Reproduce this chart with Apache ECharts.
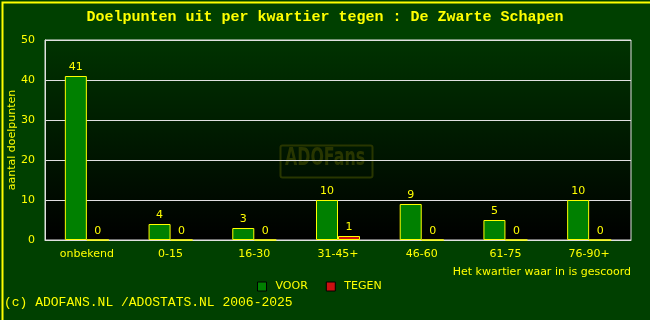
<!DOCTYPE html>
<html>
<head>
<meta charset="utf-8">
<script src="https://cdn.jsdelivr.net/npm/echarts@6/dist/echarts.min.js"></script>
<style>
  html, body { margin: 0; padding: 0; background: #004000; }
  #doelpunten { width: 650px; height: 320px; }
</style>
</head>
<body>
<div id="doelpunten"></div>
<script>
// data
var kwartieren = ['onbekend', '0-15', '16-30', '31-45+', '46-60', '61-75', '76-90+'];
var voor = [41, 4, 3, 10, 9, 5, 10];
var tegen = [0, 0, 0, 1, 0, 0, 0];

var geel = '#ffff00';
var myChart = echarts.init(document.getElementById('doelpunten'));

var option = {
  backgroundColor: '#004000',
  animation: false,
  title: {
    text: 'Doelpunten uit per kwartier tegen : De Zwarte Schapen',
    left: 'center',
    top: 5,
    textStyle: { color: geel, fontFamily: 'Liberation Mono', fontSize: 15, fontWeight: 'bold' }
  },
  legend: {
    data: ['VOOR', 'TEGEN'],
    left: 252,
    top: 276,
    icon: 'rect',
    itemWidth: 9,
    itemHeight: 9,
    itemGap: 18,
    textStyle: { color: geel, fontFamily: 'DejaVu Sans', fontSize: 11, padding: [0, 0, 0, 4] },
    itemStyle: { borderColor: '#000000', borderWidth: 1 }
  },
  grid: { left: 45, right: 19, top: 40, bottom: 80, outerBoundsMode: 'none', show: true, borderColor: '#e0e0e0', borderWidth: 1,
    backgroundColor: {
      type: 'linear', x: 0, y: 0, x2: 0, y2: 1,
      colorStops: [{ offset: 0, color: '#003300' }, { offset: 1, color: '#000000' }]
    }
  },
  xAxis: {
    type: 'category',
    data: kwartieren,
    name: 'Het kwartier waar in is gescoord',
    nameLocation: 'end',
    nameGap: 0,
    nameTextStyle: { color: geel, fontFamily: 'DejaVu Sans', fontSize: 11, align: 'right', verticalAlign: 'top', padding: [27, 0, 0, 0] },
    axisLine: { lineStyle: { color: '#e0e0e0' } },
    axisTick: { show: false },
    axisLabel: { color: geel, fontFamily: 'DejaVu Sans', fontSize: 11, margin: 9 }
  },
  yAxis: {
    type: 'value',
    min: 0,
    max: 50,
    interval: 10,
    name: 'aantal doelpunten',
    nameLocation: 'middle',
    nameGap: 27,
    nameMoveOverlap: false,
    nameTextStyle: { color: geel, fontFamily: 'DejaVu Sans', fontSize: 11 },
    axisLine: { show: true, lineStyle: { color: '#e0e0e0' } },
    axisTick: { show: false },
    axisLabel: { color: geel, fontFamily: 'DejaVu Sans', fontSize: 11, margin: 10 },
    splitLine: { lineStyle: { color: '#e0e0e0' } }
  },
  series: [
    {
      name: 'VOOR',
      type: 'bar',
      data: voor,
      barWidth: 22,
      barGap: '0%',
      itemStyle: { color: '#008000', borderColor: geel, borderWidth: 1 },
      label: { show: true, position: 'top', color: geel, fontFamily: 'DejaVu Sans', fontSize: 11, distance: 3 }
    },
    {
      name: 'TEGEN',
      type: 'bar',
      data: tegen,
      barWidth: 22,
      itemStyle: { color: '#cc1010', borderColor: geel, borderWidth: 1 },
      label: { show: true, position: 'top', color: geel, fontFamily: 'DejaVu Sans', fontSize: 11, distance: 3 }
    }
  ],
  graphic: [
    { type: 'rect', left: 0, top: 0, shape: { width: 649, height: 319 }, style: { fill: 'none', stroke: geel, lineWidth: 2 }, silent: true },
    { type: 'rect', left: 278, top: 143, shape: { width: 92, height: 32, r: 2 }, style: { fill: 'none', stroke: '#283600', lineWidth: 2 }, silent: true, z: 0 },
    { type: 'text', x: 285, y: 147, scaleX: 0.66, style: { text: 'ADOFans', fill: '#283600', font: 'bold 24px "DejaVu Sans"' }, silent: true, z: 0 },
    { type: 'text', left: 4, top: 296, style: { text: '(c) ADOFANS.NL /ADOSTATS.NL 2006-2025', fill: geel, font: '13px "Liberation Mono"' }, silent: true }
  ]
};

myChart.setOption(option);
</script>
</body>
</html>
